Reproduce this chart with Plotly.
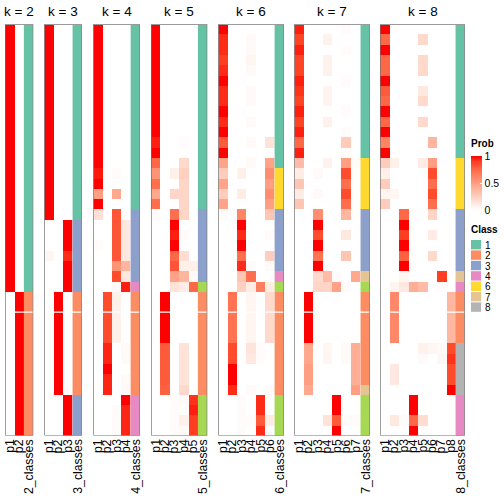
import plotly.graph_objects as go

# ---------------- data ----------------
N_ROWS = 40
K_VALUES = [2, 3, 4, 5, 6, 7, 8]
CLASS_LEGEND = [1, 2, 3, 4, 6, 7, 8]
CLASS_COLORS = {1: "#66C2A5", 2: "#FC8D62", 3: "#8DA0CB", 4: "#E78AC3",
                5: "#A6D854", 6: "#FFD92F", 7: "#E5C494", 8: "#B3B3B3"}

# k = 2
CLASS_K2 = [1,1,1,1,1,1,1,1,1,1, 1,1,1,1,1,1,1,1,1,1, 1,1,1,1,1,1,2,2,2,2, 2,2,2,2,2,2,2,2,2,2]
K2_P1 = [1,1,1,1,1,1,1,1,1,1, 1,1,1,1,1,1,1,1,1,1, 1,1,1,1,1,1,0,0,0,0, 0,0,0,0,0,0,0,0,0,0]
K2_P2 = [0,0,0,0,0,0,0,0,0,0, 0,0,0,0,0,0,0,0,0,0, 0,0,0,0,0,0,1,1,1,1, 1,1,1,1,1,1,1,1,1,1]

# k = 3
CLASS_K3 = [1,1,1,1,1,1,1,1,1,1, 1,1,1,1,1,1,1,1,1,3, 3,3,3,3,3,3,2,2,2,2, 2,2,2,2,2,2,3,3,3,3]
K3_P1 = [1,1,1,1,1,1,1,1,1,1, 1,1,1,1,1,1,1,1,1,0, 0,0,0.05,0,0,0,0,0,0,0, 0,0,0,0,0,0,0,0,0,0]
K3_P2 = [0,0,0,0,0,0,0,0,0,0, 0,0,0,0,0,0,0,0,0,0, 0,0,0,0,0,0,1,1,1,1, 1,1,1,1,1,1,0,0,0,0]
K3_P3 = [0,0,0,0,0,0,0,0,0,0, 0,0,0,0,0,0,0,0,0,1, 1,1,0.93,1,1,1,0,0,0,0, 0,0,0,0,0,0,1,1,1,1]

# k = 4
CLASS_K4 = [1,1,1,1,1,1,1,1,1,1, 1,1,1,1,1,1,1,1,3,3, 3,3,3,3,3,4,2,2,2,2, 2,2,2,2,2,2,4,4,4,4]
K4_P1 = [1,1,1,1,1,1,1,1,1,1, 1,1,1,1,0.96,1,0.5,1,0.16,0, 0,0.02,0,0,0,0,0,0,0,0, 0,0,0,0,0,0,0,0,0,0]
K4_P2 = [0,0,0,0,0,0,0,0,0,0, 0,0,0,0,0,0,0,0,0,0, 0,0,0,0,0,0,0.85,0.85,0.85,0.85, 0.85,0.94,0.94,1,0.94,0.94,0,0,0,0]
K4_P3 = [0,0,0,0,0,0,0,0,0,0, 0,0,0,0,0.02,0,0.45,0,0.82,0.82, 0.82,0.82,0.82,0.55,0.85,0.03,0.08,0.08,0.08,0.08, 0.08,0,0,0,0,0,0,0.02,0.02,0.02]
K4_P4 = [0,0,0,0,0,0,0,0,0,0, 0,0,0,0,0,0,0,0,0,0.12, 0.12,0.12,0.12,0.38,0.12,0.95,0,0,0,0, 0,0.03,0.03,0,0.03,0.03,1,0.94,0.94,0.94]

# k = 5
CLASS_K5 = [1,1,1,1,1,1,1,1,1,1, 1,1,1,1,1,1,1,1,3,3, 3,3,3,3,3,5,2,2,2,2, 2,2,2,2,2,2,5,5,5,5]
K5_P1 = [1,1,1,1,1,1,1,1,1,1, 1,0.95,1,0.75,0.55,0.72,0.45,0.72,0.02,0, 0,0,0,0,0,0,0,0,0,0, 0,0,0,0,0,0,0,0,0,0]
K5_P2 = [0,0,0,0,0,0,0,0,0,0, 0,0,0,0,0,0,0,0,0,0, 0,0,0,0,0,0,1,1,1,1, 1,0.8,0.8,0.8,0.8,0.78,0,0,0,0]
K5_P3 = [0,0,0,0,0,0,0,0,0,0, 0,0,0,0,0.08,0,0.22,0,0.72,1, 0.95,1,0.75,0.82,0.48,0.15,0,0,0,0, 0,0,0,0,0,0,0.02,0.02,0.02,0.02]
K5_P4 = [0,0,0,0,0,0,0,0,0,0, 0,0.02,0,0.2,0.25,0.22,0.22,0.22,0.22,0, 0.02,0,0.18,0.08,0.38,0.1,0,0,0,0, 0,0.15,0.15,0.15,0.15,0.2,0.03,0.01,0.08,0.03]
K5_P5 = [0,0,0,0,0,0,0,0,0,0, 0,0,0,0,0,0,0,0,0,0, 0,0,0,0.08,0.03,0.75,0,0,0,0, 0,0,0,0,0,0,0.92,0.95,0.9,0.9]

# k = 6
CLASS_K6 = [1,1,1,1,1,1,1,1,1,1, 1,1,1,1,6,6,6,6,3,3, 3,3,3,3,4,5,2,2,2,2, 2,2,2,2,2,2,5,5,5,5]
K6_P1 = [1,0.93,0.93,0.9,0.93,1,0.93,0.93,1,0.93, 1,0.8,1,0.47,0.27,0.47,0.26,0.47,0.02,0, 0,0,0,0,0,0,0,0,0,0, 0,0,0,0,0,0,0,0,0,0]
K6_P2 = [0,0,0,0,0,0,0,0,0,0, 0,0,0,0,0,0,0,0,0,0, 0,0,0,0,0,0,0.7,0.7,0.7,0.7, 0.7,0.85,0.85,1,1,0.93,0,0,0,0]
K6_P3 = [0,0,0,0,0,0,0,0,0,0, 0,0,0,0,0.08,0,0.1,0,0.62,1, 0.93,1,0.72,0.93,0.3,0.25,0,0,0,0, 0,0,0,0,0,0,0.02,0.02,0.02,0.02]
K6_P4 = [0,0.03,0.03,0.05,0.03,0,0.03,0.03,0,0.03, 0,0.03,0,0.03,0,0,0,0,0,0, 0,0,0,0.02,0.72,0.1,0.05,0.05,0.05,0.05, 0.05,0.14,0.12,0,0,0.03,0,0,0.02,0]
K6_P5 = [0,0,0,0,0,0,0,0,0,0, 0,0,0,0,0,0,0,0,0,0, 0,0,0,0,0,0.65,0,0,0,0, 0,0.02,0.02,0,0,0,0.93,0.93,0.8,0.93]
K6_P6 = [0,0,0,0,0,0,0,0,0,0, 0,0.15,0,0.47,0.58,0.5,0.58,0.5,0.3,0, 0.03,0,0.26,0.03,0,0.1,0.2,0.2,0.2,0.2, 0.2,0,0,0,0,0.02,0,0,0.1,0]

# k = 7
CLASS_K7 = [1,1,1,1,1,1,1,1,1,1, 1,1,1,6,6,6,6,6,3,3, 3,3,3,3,7,5,2,2,2,2, 2,2,2,2,2,7,5,5,5,5]
K7_P1 = [0.95,0.88,0.95,0.88,0.88,0.95,0.92,0.88,0.95,0.88, 0.95,0.75,0.95,0.35,0.1,0.3,0.1,0.3,0,0, 0,0,0,0,0,0,0,0,0,0, 0,0,0,0,0,0,0,0,0,0]
K7_P2 = [0,0,0,0,0,0,0,0,0,0, 0,0,0,0,0,0,0,0,0,0, 0,0,0,0,0,0,1,1,1,1, 1,0.45,0.45,0.5,0.5,0.45,0,0,0,0]
K7_P3 = [0,0,0,0,0,0,0,0,0,0, 0,0,0,0,0.03,0,0.03,0,0.58,1, 0.85,1,0.7,1,0.2,0.22,0,0,0,0, 0,0,0,0,0,0,0,0,0,0]
K7_P4 = [0,0.07,0,0.07,0.07,0,0.06,0.06,0,0.07, 0,0,0,0.07,0,0,0,0,0,0, 0,0,0,0,0.35,0.22,0,0,0,0, 0,0.05,0.05,0,0,0,0,0,0.15,0]
K7_P5 = [0,0,0,0,0,0,0,0,0,0, 0,0,0,0,0,0,0,0,0,0, 0,0,0,0,0.02,0.48,0,0,0,0, 0,0,0,0,0,0,1,1,0.8,1]
K7_P6 = [0.02,0,0.02,0,0,0.02,0,0,0.02,0, 0.02,0.27,0.02,0.5,0.85,0.72,0.85,0.72,0.38,0, 0.12,0,0.3,0,0,0.02,0,0,0,0, 0,0.03,0.03,0,0,0,0,0,0.02,0]
K7_P7 = [0,0,0,0,0,0,0,0,0,0, 0,0,0,0.02,0,0,0,0,0,0, 0,0,0,0,0.45,0,0,0,0,0, 0,0.42,0.42,0.42,0.42,0.5,0,0,0.02,0]

# k = 8
CLASS_K8 = [1,1,1,1,1,1,1,1,1,1, 1,1,1,6,6,6,6,6,3,3, 3,3,3,3,7,4,2,2,2,2, 2,8,8,8,8,8,4,4,4,4]
K8_P1 = [1,0.75,1,0.75,0.75,1,0.8,0.75,1,0.75, 1,0.62,1,0.27,0.08,0.27,0.05,0.27,0,0, 0,0,0,0,0,0,0,0,0,0, 0,0,0,0,0,0,0,0,0,0]
K8_P2 = [0,0,0,0,0,0,0,0,0,0, 0,0,0,0.08,0,0,0.05,0,0,0, 0,0,0,0,0,0.06,0.6,0.6,0.6,0.6, 0.6,0,0,0.12,0.12,0,0,0,0.12,0]
K8_P3 = [0,0,0,0,0,0,0,0,0,0, 0,0,0,0,0,0,0,0,0.75,1, 0.9,1,0.78,1,0.05,0.12,0,0,0,0, 0,0,0,0,0,0,0,0,0.02,0]
K8_P4 = [0,0,0,0,0,0,0,0,0,0, 0,0,0,0,0,0,0,0,0,0, 0,0,0,0,0,0.42,0,0,0,0, 0,0,0,0,0,0,1,1,0.75,1]
K8_P5 = [0,0.2,0,0.2,0.2,0,0.12,0.2,0,0.2, 0,0,0,0.1,0,0,0,0,0,0, 0,0,0,0,0,0.35,0,0,0,0, 0,0.07,0.02,0,0,0,0,0,0.18,0]
K8_P6 = [0,0,0,0,0,0,0,0,0,0, 0,0.38,0,0.5,0.85,0.72,0.85,0.72,0.22,0, 0.1,0,0.2,0,0,0,0,0,0,0, 0,0.05,0,0,0,0,0,0,0,0]
K8_P7 = [0,0,0,0,0,0,0,0,0,0, 0,0,0,0,0,0,0,0,0,0, 0,0,0,0,0.9,0.02,0,0,0,0, 0,0.03,0.04,0,0,0,0,0,0,0]
K8_P8 = [0,0,0,0,0,0,0,0,0,0, 0,0,0,0,0,0,0,0,0,0, 0,0,0,0,0,0,0.37,0.37,0.37,0.37, 0.37,0.85,0.92,0.85,0.85,1,0,0,0,0]

PANELS = {
    2: ([K2_P1, K2_P2], CLASS_K2),
    3: ([K3_P1, K3_P2, K3_P3], CLASS_K3),
    4: ([K4_P1, K4_P2, K4_P3, K4_P4], CLASS_K4),
    5: ([K5_P1, K5_P2, K5_P3, K5_P4, K5_P5], CLASS_K5),
    6: ([K6_P1, K6_P2, K6_P3, K6_P4, K6_P5, K6_P6], CLASS_K6),
    7: ([K7_P1, K7_P2, K7_P3, K7_P4, K7_P5, K7_P6, K7_P7], CLASS_K7),
    8: ([K8_P1, K8_P2, K8_P3, K8_P4, K8_P5, K8_P6, K8_P7, K8_P8], CLASS_K8),
}

# ---------------- layout geometry (pixels) ----------------
W = H = 504
PANEL_X = {2: (5, 33.3), 3: (44.3, 82), 4: (93.3, 140), 5: (151, 207.3),
           6: (218.3, 284), 7: (294.3, 370), 8: (380, 465)}
HM_TOP, HM_BOT = 24, 435.6
FONT = "Liberation Sans, Arial, Helvetica, sans-serif"

def px(x):
    return x / W

def py(y):
    return 1 - y / H

PROB_SCALE = [[0, "rgb(255,255,255)"], [0.1, "rgb(255,236,229)"], [0.25, "rgb(255,207,191)"],
              [0.5, "rgb(255,158,130)"], [0.75, "rgb(255,104,70)"], [0.9, "rgb(255,62,33)"],
              [1, "rgb(255,0,0)"]]
CLASS_SCALE = []
for c in range(1, 9):
    CLASS_SCALE.append([(c - 1) / 8, CLASS_COLORS[c]])
    CLASS_SCALE.append([c / 8, CLASS_COLORS[c]])

fig = go.Figure()
shapes = []
annotations = []
layout_axes = {}

for i, k in enumerate(K_VALUES):
    cols, classes = PANELS[k]
    axname = "x" if i == 0 else f"x{i+1}"
    axkey = "xaxis" if i == 0 else f"xaxis{i+1}"
    z = [list(row) for row in zip(*cols)]
    fig.add_trace(go.Heatmap(
        z=z, x0=0, dx=1, y0=0, dy=1, zmin=0, zmax=1, colorscale=PROB_SCALE,
        xaxis=axname, yaxis="y", hoverinfo="skip",
        showscale=(i == 0),
        colorbar=dict(
            thickness=11, thicknessmode="pixels", len=54, lenmode="pixels",
            x=px(471), xanchor="left", y=py(156), yanchor="top",
            tickvals=[0, 0.5, 1], ticktext=["0", "0.5", "1"],
            ticks="inside", ticklen=2, tickcolor="white",
            tickfont=dict(size=10.5, family=FONT, color="black"),
            outlinewidth=0, xpad=0, ypad=0,
        ),
    ))
    fig.add_trace(go.Heatmap(
        z=[[c] for c in classes], x0=k, dx=1, y0=0, dy=1, zmin=0.5, zmax=8.5,
        colorscale=CLASS_SCALE, showscale=False, xaxis=axname, yaxis="y", hoverinfo="skip",
    ))
    x0p, x1p = PANEL_X[k]
    layout_axes[axkey] = dict(domain=[px(x0p), px(x1p)], range=[-0.5, k + 0.5],
                              showticklabels=False, showgrid=False, zeroline=False,
                              ticks="", anchor="y", fixedrange=True)
    # white split line
    shapes.append(dict(type="line", xref=axname, yref="y", x0=-0.5, x1=k + 0.5, y0=27.5, y1=27.5,
                       line=dict(color="white", width=1.2)))
    # border
    shapes.append(dict(type="rect", xref=axname, yref="y", x0=-0.5, x1=k + 0.5, y0=-0.5, y1=39.5,
                       line=dict(color="#6e6e6e", width=1.3)))
    shapes.append(dict(type="line", xref=axname, yref="y", x0=-0.5, x1=k + 0.5, y0=-0.5, y1=-0.5,
                       line=dict(color="#9a9a9a", width=2)))
    # title
    annotations.append(dict(xref=axname, yref="paper", x=k / 2, y=py(11), text=f"k = {k}",
                            showarrow=False, xanchor="center", yanchor="middle",
                            font=dict(size=13.5, family=FONT, color="black")))
    # column labels
    labels = [f"p{j+1}" for j in range(k)] + [f"{k}_classes"]
    for j, lab in enumerate(labels):
        annotations.append(dict(xref=axname, yref="paper", x=j, y=py(437), text=lab,
                                textangle=-90, showarrow=False, xanchor="center", yanchor="top",
                                font=dict(size=12.3, family=FONT, color="black")))

# prob legend title
annotations.append(dict(xref="paper", yref="paper", x=px(470), y=py(143.5), text="<b>Prob</b>",
                        showarrow=False, xanchor="left", yanchor="middle", borderpad=0, height=11,
                        font=dict(size=10, family=FONT, color="black")))
# class legend
annotations.append(dict(xref="paper", yref="paper", x=px(470), y=py(230), text="<b>Class</b>",
                        showarrow=False, xanchor="left", yanchor="middle", borderpad=0,
                        font=dict(size=10, family=FONT, color="black")))
for n, c in enumerate(CLASS_LEGEND):
    top = 240 + n * 10.4
    shapes.append(dict(type="rect", xref="paper", yref="paper", x0=px(471), x1=px(481),
                       y0=py(top), y1=py(top + 9.4), fillcolor=CLASS_COLORS[c], line=dict(width=0)))
    annotations.append(dict(xref="paper", yref="paper", x=px(484), y=py(top + 4.7), text=str(c),
                            showarrow=False, xanchor="left", yanchor="middle", height=10,
                            borderpad=0,
                            font=dict(size=10, family=FONT, color="black")))

fig.update_layout(
    width=W, height=H, margin=dict(l=0, r=0, t=0, b=0),
    paper_bgcolor="white", plot_bgcolor="white",
    yaxis=dict(domain=[py(HM_BOT), py(HM_TOP)], range=[39.5, -0.5], showticklabels=False,
               showgrid=False, zeroline=False, ticks="", fixedrange=True),
    shapes=shapes, annotations=annotations, showlegend=False,
    **layout_axes,
)

fig.write_html("out.html", config={"displayModeBar": False},
               post_script="document.body.style.margin='0px';")
